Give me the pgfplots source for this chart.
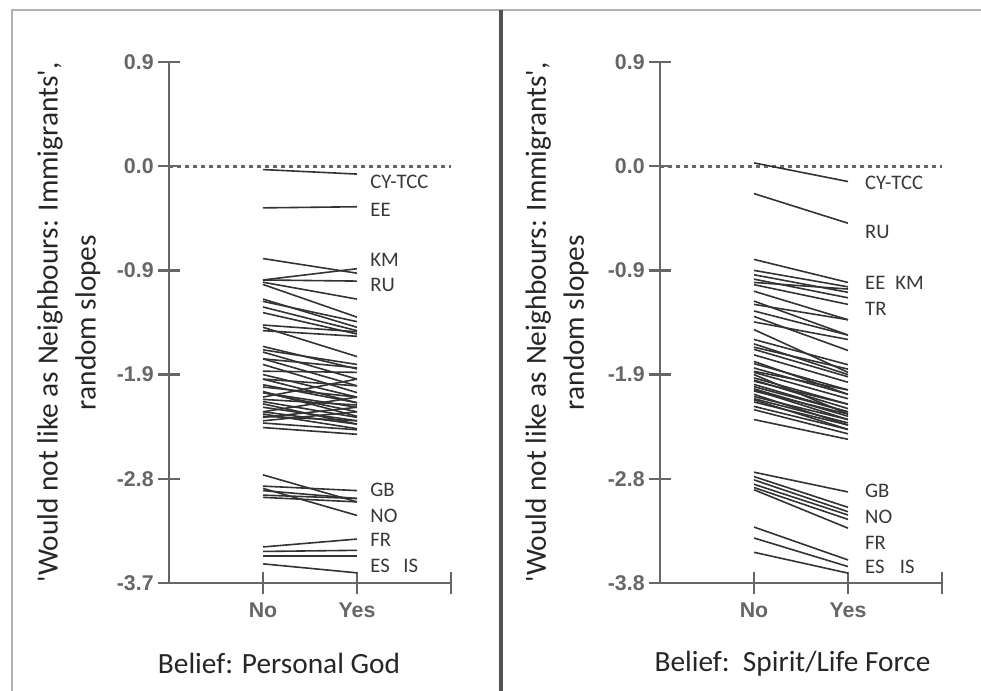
\documentclass[border=0pt]{standalone}
\usepackage{pgfplots}
\pgfplotsset{compat=1.18}
\usepackage{fontspec}
\setmainfont{Carlito}
\newfontfamily\tickfont{Liberation Sans}
\pgfplotsset{
 panel/.style={
  scale only axis, width=211.5pt, height=390.75pt,
  xmin=0, xmax=3, axis x line=bottom, axis y line=left,
  axis line style={-, draw=black!60, line width=1.8pt},
  xtick={1,2,3}, xticklabels={No,Yes,{}},
  tick align=center, major tick length=16pt,
  tick style={draw=black!60, line width=1.8pt},
  ticklabel style={font=\tickfont\bfseries\fontsize{16}{19}\selectfont, text=black!60},
  xticklabel style={yshift=-3pt},
  label style={font=\fontsize{22}{28.5}\selectfont, text=black!85},
  ylabel style={align=center, anchor=center},
  xlabel style={anchor=center},
  clip=false,
 },
 cl/.style={black!80, line width=1.2pt, no marks},
 zl/.style={black!60, line width=2pt, dash pattern=on 3pt off 3pt, no marks},
}
\tikzset{cat/.style={font=\fontsize{15.5}{18}\selectfont, text=black!78, anchor=west, inner sep=0pt}}
\newcommand\q{\textquotesingle}
\begin{document}
\begin{tikzpicture}
\path[use as bounding box] (0,0) rectangle (735.75pt,518.25pt);
% ---------------- left panel ----------------
\begin{axis}[panel, at={(126.75pt,81pt)}, anchor=south west,
  ymin=-3.7, ymax=0.925,
  ytick={0.925,0,-0.925,-1.85,-2.775,-3.7},
  yticklabels={0.9,0.0,-0.9,-1.9,-2.8,-3.7},
  ylabel={\q Would not like as Neighbours: Immigrants\q,\\random slopes},
  ylabel style={at={(axis description cs:-0.355,0.5)}},
  xlabel={Belief: Personal God},
  xlabel style={at={(axis description cs:0.39,-0.154)}}]
\addplot[zl] coordinates {(0,0) (3,0)};
\addplot[cl] coordinates {(1,-0.03) (2,-0.07)};
\addplot[cl] coordinates {(1,-0.37) (2,-0.36)};
\addplot[cl] coordinates {(1,-0.82) (2,-0.95)};
\addplot[cl] coordinates {(1,-1.01) (2,-0.91)};
\addplot[cl] coordinates {(1,-1.01) (2,-1.02)};
\addplot[cl] coordinates {(1,-1.03) (2,-1.18)};
\addplot[cl] coordinates {(1,-1.05) (2,-1.34)};
\addplot[cl] coordinates {(1,-1.20) (2,-1.38)};
\addplot[cl] coordinates {(1,-1.25) (2,-1.46)};
\addplot[cl] coordinates {(1,-1.18) (2,-1.43)};
\addplot[cl] coordinates {(1,-1.30) (2,-1.49)};
\addplot[cl] coordinates {(1,-1.41) (2,-1.47)};
\addplot[cl] coordinates {(1,-1.43) (2,-1.69)};
\addplot[cl] coordinates {(1,-1.46) (2,-1.51)};
\addplot[cl] coordinates {(1,-1.60) (2,-1.80)};
\addplot[cl] coordinates {(1,-1.63) (2,-1.76)};
\addplot[cl] coordinates {(1,-1.65) (2,-1.89)};
\addplot[cl] coordinates {(1,-1.71) (2,-1.79)};
\addplot[cl] coordinates {(1,-1.76) (2,-2.01)};
\addplot[cl] coordinates {(1,-1.82) (2,-1.83)};
\addplot[cl] coordinates {(1,-1.85) (2,-2.05)};
\addplot[cl] coordinates {(1,-1.89) (2,-2.10)};
\addplot[cl] coordinates {(1,-1.89) (2,-1.95)};
\addplot[cl] coordinates {(1,-1.96) (2,-2.05)};
\addplot[cl] coordinates {(1,-2.00) (2,-2.22)};
\addplot[cl] coordinates {(1,-2.01) (2,-2.18)};
\addplot[cl] coordinates {(1,-2.05) (2,-1.89)};
\addplot[cl] coordinates {(1,-2.07) (2,-2.12)};
\addplot[cl] coordinates {(1,-2.09) (2,-2.23)};
\addplot[cl] coordinates {(1,-2.01) (2,-2.14)};
\addplot[cl] coordinates {(1,-2.14) (2,-2.26)};
\addplot[cl] coordinates {(1,-2.18) (2,-2.05)};
\addplot[cl] coordinates {(1,-2.18) (2,-2.29)};
\addplot[cl] coordinates {(1,-2.20) (2,-2.33)};
\addplot[cl] coordinates {(1,-2.23) (2,-2.14)};
\addplot[cl] coordinates {(1,-2.26) (2,-2.18)};
\addplot[cl] coordinates {(1,-2.28) (2,-2.34)};
\addplot[cl] coordinates {(1,-2.32) (2,-2.38)};
\addplot[cl] coordinates {(1,-2.11) (2,-2.29)};
\addplot[cl] coordinates {(1,-2.22) (2,-2.26)};
\addplot[cl] coordinates {(1,-1.71) (2,-1.95)};
\addplot[cl] coordinates {(1,-1.94) (2,-2.10)};
\addplot[cl] coordinates {(1,-2.74) (2,-2.98)};
\addplot[cl] coordinates {(1,-2.84) (2,-2.88)};
\addplot[cl] coordinates {(1,-2.86) (2,-3.10)};
\addplot[cl] coordinates {(1,-2.92) (2,-2.95)};
\addplot[cl] coordinates {(1,-2.94) (2,-2.98)};
\addplot[cl] coordinates {(1,-2.88) (2,-2.95)};
\addplot[cl] coordinates {(1,-3.38) (2,-3.31)};
\addplot[cl] coordinates {(1,-3.42) (2,-3.41)};
\addplot[cl] coordinates {(1,-3.46) (2,-3.46)};
\addplot[cl] coordinates {(1,-3.53) (2,-3.61)};
\node[cat] at (axis cs:2.14,-0.14) {CY-TCC};
\node[cat] at (axis cs:2.14,-0.39) {EE};
\node[cat] at (axis cs:2.14,-0.83) {KM};
\node[cat] at (axis cs:2.14,-1.05) {RU};
\node[cat] at (axis cs:2.14,-2.87) {GB};
\node[cat] at (axis cs:2.14,-3.10) {NO};
\node[cat] at (axis cs:2.14,-3.32) {FR};
\node[cat] at (axis cs:2.14,-3.55) {ES};
\node[cat] at (axis cs:2.49,-3.55) {IS};
\end{axis}
% ---------------- right panel ----------------
\begin{axis}[panel, at={(495pt,81pt)}, anchor=south west,
  ymin=-3.8, ymax=0.95,
  ytick={0.95,0,-0.95,-1.9,-2.85,-3.8},
  yticklabels={0.9,0.0,-0.9,-1.9,-2.8,-3.8},
  ylabel={\q Would not like as Neighbours: Immigrants\q,\\random slopes},
  ylabel style={at={(axis description cs:-0.365,0.5)}},
  xlabel={Belief:\ \ Spirit/Life Force},
  xlabel style={at={(axis description cs:0.47,-0.154)}}]
\addplot[zl] coordinates {(0,0) (3,0)};
\addplot[cl] coordinates {(1,0.03) (2,-0.14)};
\addplot[cl] coordinates {(1,-0.25) (2,-0.52)};
\addplot[cl] coordinates {(1,-0.85) (2,-1.06)};
\addplot[cl] coordinates {(1,-0.95) (2,-1.10)};
\addplot[cl] coordinates {(1,-0.99) (2,-1.15)};
\addplot[cl] coordinates {(1,-1.03) (2,-1.20)};
\addplot[cl] coordinates {(1,-1.06) (2,-1.12)};
\addplot[cl] coordinates {(1,-1.08) (2,-1.26)};
\addplot[cl] coordinates {(1,-1.14) (2,-1.40)};
\addplot[cl] coordinates {(1,-1.23) (2,-1.54)};
\addplot[cl] coordinates {(1,-1.26) (2,-1.40)};
\addplot[cl] coordinates {(1,-1.32) (2,-1.54)};
\addplot[cl] coordinates {(1,-1.37) (2,-1.68)};
\addplot[cl] coordinates {(1,-1.42) (2,-1.58)};
\addplot[cl] coordinates {(1,-1.49) (2,-1.88)};
\addplot[cl] coordinates {(1,-1.58) (2,-1.81)};
\addplot[cl] coordinates {(1,-1.62) (2,-1.90)};
\addplot[cl] coordinates {(1,-1.65) (2,-1.85)};
\addplot[cl] coordinates {(1,-1.67) (2,-1.92)};
\addplot[cl] coordinates {(1,-1.72) (2,-1.97)};
\addplot[cl] coordinates {(1,-1.80) (2,-2.04)};
\addplot[cl] coordinates {(1,-1.84) (2,-2.08)};
\addplot[cl] coordinates {(1,-1.87) (2,-2.04)};
\addplot[cl] coordinates {(1,-1.88) (2,-2.12)};
\addplot[cl] coordinates {(1,-1.95) (2,-2.21)};
\addplot[cl] coordinates {(1,-1.96) (2,-2.17)};
\addplot[cl] coordinates {(1,-2.01) (2,-2.24)};
\addplot[cl] coordinates {(1,-2.03) (2,-2.28)};
\addplot[cl] coordinates {(1,-2.05) (2,-2.26)};
\addplot[cl] coordinates {(1,-2.10) (2,-2.31)};
\addplot[cl] coordinates {(1,-2.12) (2,-2.34)};
\addplot[cl] coordinates {(1,-2.15) (2,-2.36)};
\addplot[cl] coordinates {(1,-2.19) (2,-2.40)};
\addplot[cl] coordinates {(1,-2.22) (2,-2.44)};
\addplot[cl] coordinates {(1,-1.99) (2,-2.24)};
\addplot[cl] coordinates {(1,-2.04) (2,-2.31)};
\addplot[cl] coordinates {(1,-2.08) (2,-2.36)};
\addplot[cl] coordinates {(1,-2.13) (2,-2.40)};
\addplot[cl] coordinates {(1,-2.31) (2,-2.49)};
\addplot[cl] coordinates {(1,-1.93) (2,-2.17)};
\addplot[cl] coordinates {(1,-1.78) (2,-2.08)};
\addplot[cl] coordinates {(1,-1.90) (2,-2.26)};
\addplot[cl] coordinates {(1,-2.79) (2,-2.97)};
\addplot[cl] coordinates {(1,-2.83) (2,-3.11)};
\addplot[cl] coordinates {(1,-2.86) (2,-3.15)};
\addplot[cl] coordinates {(1,-2.90) (2,-3.18)};
\addplot[cl] coordinates {(1,-2.93) (2,-3.22)};
\addplot[cl] coordinates {(1,-2.95) (2,-3.30)};
\addplot[cl] coordinates {(1,-3.29) (2,-3.59)};
\addplot[cl] coordinates {(1,-3.39) (2,-3.65)};
\addplot[cl] coordinates {(1,-3.52) (2,-3.71)};
\node[cat] at (axis cs:2.18,-0.15) {CY-TCC};
\node[cat] at (axis cs:2.18,-0.60) {RU};
\node[cat] at (axis cs:2.18,-1.06) {EE};
\node[cat] at (axis cs:2.50,-1.06) {KM};
\node[cat] at (axis cs:2.18,-1.30) {TR};
\node[cat] at (axis cs:2.18,-2.96) {GB};
\node[cat] at (axis cs:2.18,-3.20) {NO};
\node[cat] at (axis cs:2.18,-3.43) {FR};
\node[cat] at (axis cs:2.18,-3.65) {ES};
\node[cat] at (axis cs:2.55,-3.65) {IS};
\end{axis}
% frame lines
\draw[black!30, line width=1.5pt] (9pt,0pt) -- (9pt,510.75pt) -- (735.75pt,510.75pt);
\draw[black!68, line width=3pt] (375.75pt,0pt) -- (375.75pt,510.75pt);
\end{tikzpicture}
\end{document}
